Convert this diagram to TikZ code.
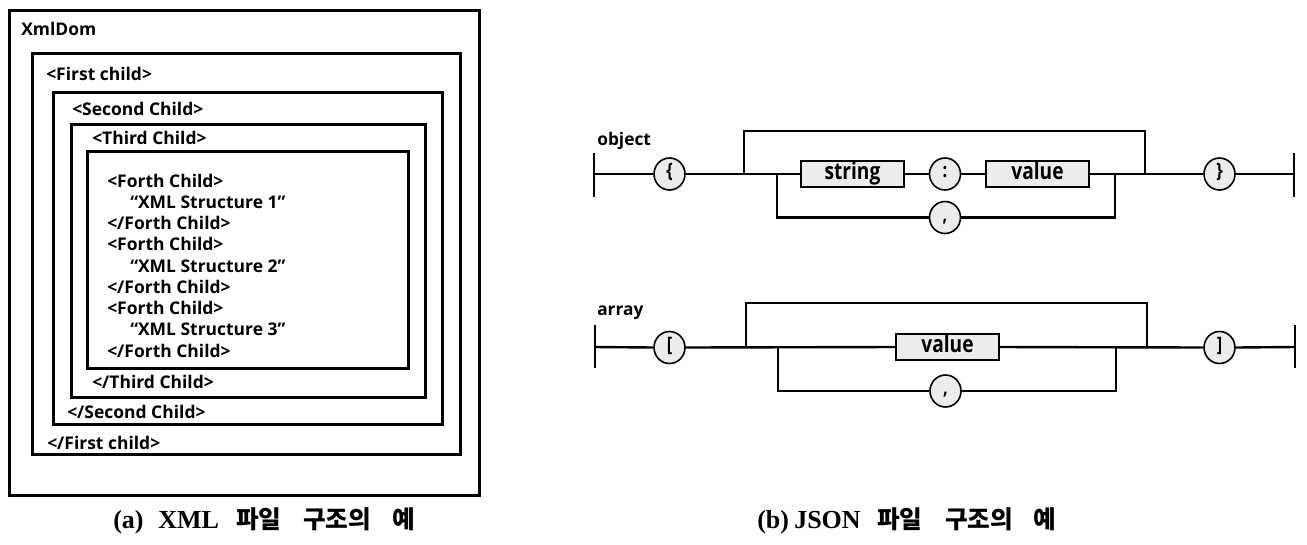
\documentclass[tikz,border=0pt]{standalone}
\usepackage{fontspec}
\usetikzlibrary{shapes.geometric}
\newfontfamily\dgf{Open Sans}
\newfontfamily\jsf{Open Sans}[FakeStretch=0.82]
\newfontfamily\capf{Liberation Serif}
\newfontfamily\krf{Noto Sans CJK KR}
\begin{document}
\begin{tikzpicture}[x=0.75pt,y=-0.75pt,
  xbox/.style={line width=2.25pt},
  xt/.style={anchor=base west, inner sep=0pt, font=\dgf\bfseries\fontsize{13.1}{15}\selectfont},
  lbl/.style={anchor=base west, inner sep=0pt, font=\dgf\bfseries\fontsize{13}{15}\selectfont},
  rail/.style={line width=1.8pt},
  endbar/.style={line width=2pt},
  term/.style={ellipse, draw, line width=1.2pt, fill=gray!15, minimum width=23.25pt, minimum height=24pt, inner sep=0pt, text height=0.76em, text depth=0.2em, font=\jsf\bfseries\fontsize{15}{16}\selectfont},
  nterm/.style={rectangle, draw, line width=1.4pt, fill=gray!15, minimum width=77.25pt, minimum height=19.5pt, inner sep=0pt, text height=0.9em, text depth=0.1em, font=\jsf\bfseries\fontsize{17.5}{19}\selectfont},
  capl/.style={anchor=base west, inner sep=0pt, font=\capf\bfseries\fontsize{19.5}{22}\selectfont},
  capk/.style={anchor=base west, inner sep=0pt, font=\krf\bfseries\fontsize{18.5}{22}\selectfont}
]
\useasboundingbox (0,0) rectangle (1307,544);

% ---------- XML nested boxes ----------
\draw[xbox] (9,10) rectangle (479,495);
\draw[xbox] (32,53) rectangle (460,454);
\draw[xbox] (53,92) rectangle (442,424);
\draw[xbox] (71,124) rectangle (425.5,397);
\draw[xbox] (87.5,151.5) rectangle (408.5,368.5);

\node[xt] (xmldom) at (21,35) {XmlDom};
\node[xt] (f1) at (46,80) {<First child>};
\node[xt] (s1) at (72,115) {<Second Child>};
\node[xt] (t1) at (92,144) {<Third Child>};
\node[xt] (q1) at (107,187) {<Forth Child>};
\node[xt] (q2) at (130,208.25) {“XML Structure 1”};
\node[xt] (q3) at (107,229.5) {</Forth Child>};
\node[xt] (q4) at (107,250.75) {<Forth Child>};
\node[xt] (q5) at (130,272) {“XML Structure 2”};
\node[xt] (q6) at (107,293.25) {</Forth Child>};
\node[xt] (q7) at (107,314.5) {<Forth Child>};
\node[xt] (q8) at (130,335.75) {“XML Structure 3”};
\node[xt] (q9) at (107,357) {</Forth Child>};
\node[xt] (t2) at (92,388) {</Third Child>};
\node[xt] (s2) at (67,418) {</Second Child>};
\node[xt] (f2) at (47,449) {</First child>};

% ---------- JSON object ----------
\node[lbl] (objlbl) at (597,145) {object};
\coordinate (oL) at (594,174);
\coordinate (oLt) at (594,153);
\coordinate (oLb) at (594,197);
\node[term] (ob) at (669.5,174) {\{};
\coordinate (oj1) at (744,174);
\coordinate (oj2) at (777,174);
\node[nterm] (ostr) at (852.5,174) {string};
\node[term] (ocol) at (945,174) {:};
\node[nterm] (oval) at (1037.5,174) {value};
\coordinate (oj3) at (1115,174);
\coordinate (oj4) at (1145,174);
\node[term] (oe) at (1219.5,174) {\}};
\coordinate (oR) at (1294,174);
\coordinate (oRt) at (1294,153);
\coordinate (oRb) at (1294,197);
\node[term] (ocom) at (945,217.5) {,};
\coordinate (otop) at (945,131);

\draw[endbar] (oLt) -- (oLb);
\draw[endbar] (oRt) -- (oRb);
\draw[rail] (oL) -- (ob.west);
\draw[rail] (ob.east) -- (ostr.west);
\draw[rail] (ostr.east) -- (ocol.west);
\draw[rail] (ocol.east) -- (oval.west);
\draw[rail] (oval.east) -- (oe.west);
\draw[rail] (oe.east) -- (oR);
\draw[rail] (oj1) |- (otop) -| (oj4);
\draw[rail] (oj2) |- (ocom.west);
\draw[rail] (ocom.east) -| (oj3);

% ---------- JSON array ----------
\node[lbl] (arrlbl) at (597,315) {array};
\coordinate (aL) at (595,347);
\coordinate (aLt) at (595,325);
\coordinate (aLb) at (595,368);
\node[term] (ab) at (669.5,347.5) {[};
\coordinate (aj1) at (746,347);
\coordinate (aj2) at (778,347);
\node[nterm] (aval) at (947.5,347) {value};
\coordinate (aj3) at (1116,347);
\coordinate (aj4) at (1147,347);
\node[term] (ae) at (1219.5,347.5) {]};
\coordinate (aR) at (1295,347);
\coordinate (aRt) at (1295,325);
\coordinate (aRb) at (1295,368);
\node[term] (acom) at (945.5,391) {,};
\coordinate (atop) at (945,303);

\draw[endbar] (aLt) -- (aLb);
\draw[endbar] (aRt) -- (aRb);
\draw[rail] (aL) -- (ab.west);
\draw[rail] (ab.east) -- (aval.west);
\draw[rail] (aval.east) -- (ae.west);
\draw[rail] (ae.east) -- (aR);
\draw[rail] (aj1) |- (atop) -| (aj4);
\draw[rail] (aj2) |- (acom.west);
\draw[rail] (acom.east) -| (aj3);

% ---------- captions ----------
\node[capl] (ca1) at (113,528) {(a)};
\node[capl] (ca2) at (158,528) {XML};
\node[capk] (ca3) at (236,528) {파일};
\node[capk] (ca4) at (303,528) {구조의};
\node[capk] (ca5) at (392,528) {예};
\node[capl] (cb1) at (757,528) {(b)};
\node[capl] (cb2) at (794,528) {JSON};
\node[capk] (cb3) at (877,528) {파일};
\node[capk] (cb4) at (945,528) {구조의};
\node[capk] (cb5) at (1033,528) {예};
\end{tikzpicture}
\end{document}
